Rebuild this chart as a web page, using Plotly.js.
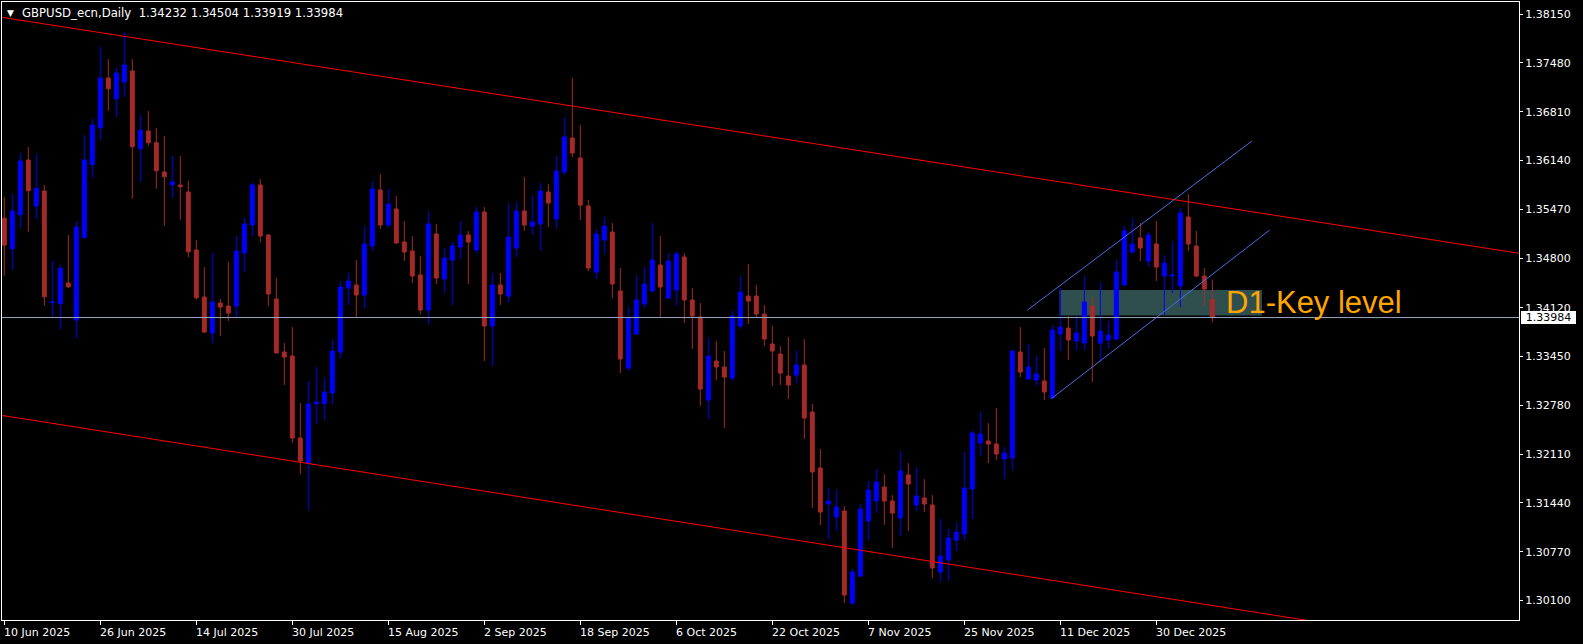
<!DOCTYPE html>
<html>
<head>
<meta charset="utf-8">
<script src="https://cdn.plot.ly/plotly-3.0.1.min.js"></script>
<style>
html,body{margin:0;padding:0;background:#000;overflow:hidden;}
#chart{width:1583px;height:644px;}
</style>
</head>
<body>
<div id="chart"></div>
<script>
// ---- Data (GBPUSD daily) ----
const symbolTitle = "GBPUSD_ecn,Daily";
const startDate = "2025-06-10";
const holidays = ["2025-12-25", "2026-01-01"];

const openP = [1.35346,1.34929,1.35395,1.36146,1.35515,1.35721,1.3419,1.34174,1.34458,1.3395,
1.3508,1.36082,1.36589,1.37272,1.36987,1.37217,1.37368,1.36301,1.36544,1.36383,
1.35981,1.35807,1.35803,1.35707,1.34911,1.34266,1.33772,1.34183,1.34142,1.34142,
1.3487,1.35254,1.35803,1.35117,1.34238,1.33511,1.33456,1.32331,1.31987,1.32801,
1.32801,1.32948,1.33511,1.34389,1.3443,1.34293,1.34966,1.35734,1.35254,1.35474,
1.35021,1.34897,1.34568,1.34087,1.35131,1.34513,1.34774,1.34952,1.35117,1.34911,
1.35432,1.33868,1.3443,1.34279,1.34938,1.35446,1.3524,1.35268,1.35707,1.35336,
1.35981,1.36448,1.36174,1.35515,1.34609,1.35048,1.35158,1.34348,1.33291,1.33758,
1.3417,1.34348,1.34705,1.34252,1.34362,1.34815,1.34225,1.33991,1.32852,1.33387,
1.33305,1.33154,1.33868,1.34279,1.34279,1.34032,1.33621,1.33483,1.33181,1.33195,
1.33332,1.32687,1.31919,1.31425,1.31246,1.31329,1.30066,1.30436,1.31191,1.31466,
1.31658,1.31466,1.31233,1.31823,1.31411,1.31507,1.31411,1.30491,1.30656,1.30931,
1.31013,1.31631,1.32262,1.32289,1.32248,1.32042,1.32056,1.33511,1.3314,1.33127,
1.33113,1.3288,1.33758,1.3384,1.33662,1.33634,1.34142,1.33634,1.33676,1.33689,
1.3443,1.34883,1.35076,1.3476,1.34993,1.34554,1.34554,1.34417,1.35364,1.34966,
1.34554,1.34232];

const highP = [1.35642,1.35679,1.36242,1.36324,1.36228,1.35803,1.3476,1.34705,1.35117,1.35309,
1.36489,1.36723,1.37711,1.37532,1.37409,1.37903,1.37532,1.36768,1.36819,1.36585,
1.36475,1.36201,1.36201,1.35862,1.35048,1.34677,1.3487,1.34238,1.34746,1.35103,
1.3535,1.35844,1.35885,1.3513,1.34527,1.33634,1.33854,1.32811,1.33113,1.33305,
1.33154,1.33676,1.34485,1.34595,1.34774,1.3524,1.35858,1.35954,1.35748,1.35652,
1.35309,1.35103,1.34828,1.35446,1.35268,1.34938,1.35021,1.35309,1.35172,1.35501,
1.35501,1.34595,1.34595,1.35556,1.3557,1.35913,1.35652,1.3583,1.35817,1.36201,
1.36736,1.37272,1.36626,1.35597,1.35199,1.35364,1.35281,1.34664,1.34128,1.34568,
1.34677,1.35281,1.35103,1.3487,1.34897,1.3487,1.34389,1.34183,1.33703,1.33662,
1.33525,1.34087,1.34554,1.34719,1.3443,1.34156,1.33868,1.33593,1.33717,1.33538,
1.33689,1.32797,1.3218,1.31644,1.31617,1.31397,1.30533,1.31425,1.3174,1.31905,
1.31836,1.31548,1.32152,1.31987,1.31932,1.31768,1.31548,1.31219,1.31082,1.31178,
1.32138,1.3244,1.32687,1.32536,1.32742,1.32207,1.33538,1.33854,1.33621,1.33456,
1.33566,1.33881,1.34389,1.34005,1.34019,1.34554,1.34266,1.34472,1.33936,1.34774,
1.3524,1.3535,1.35281,1.35158,1.35309,1.34842,1.35021,1.35487,1.35679,1.35172,
1.34664,1.34504];

const lowP = [1.34558,1.34636,1.35213,1.35162,1.3534,1.34146,1.33995,1.33817,1.34389,1.33699,
1.3508,1.35899,1.36421,1.36823,1.3674,1.37015,1.35615,1.35848,1.36342,1.35752,
1.35244,1.35629,1.35327,1.34811,1.34229,1.33772,1.33634,1.3373,1.33936,1.33991,
1.34609,1.35103,1.35021,1.34142,1.3349,1.33058,1.32262,1.31836,1.31342,1.32523,
1.32578,1.32797,1.33429,1.34156,1.33978,1.34115,1.34897,1.35199,1.35213,1.35,
1.3476,1.34458,1.34032,1.33895,1.34444,1.34321,1.34156,1.34787,1.34444,1.3487,
1.33387,1.33319,1.34156,1.34197,1.34815,1.35172,1.35117,1.34897,1.35226,1.35213,
1.3594,1.36187,1.35323,1.34623,1.34513,1.34856,1.34252,1.33223,1.3325,1.3375,
1.34115,1.34334,1.33991,1.34245,1.34142,1.33909,1.33552,1.3277,1.32591,1.33127,
1.32468,1.33113,1.33827,1.33895,1.33991,1.33593,1.33044,1.33058,1.32866,1.33085,
1.32317,1.3137,1.31136,1.30944,1.31054,1.30066,1.30038,1.30423,1.30931,1.31301,
1.31136,1.30821,1.30985,1.31054,1.31329,1.31315,1.30409,1.30354,1.30368,1.3078,
1.30931,1.31219,1.32083,1.31987,1.32029,1.31768,1.31891,1.33168,1.3314,1.33044,
1.32852,1.3287,1.33525,1.33401,1.33538,1.33538,1.33099,1.33374,1.33552,1.33662,
1.34425,1.3487,1.3476,1.34677,1.34485,1.34019,1.34321,1.34128,1.34897,1.3454,
1.34142,1.33919];

const closeP = [1.34979,1.35446,1.36132,1.35725,1.35758,1.3427,1.34197,1.3466,1.34407,1.35226,
1.36146,1.36626,1.37272,1.37125,1.3734,1.3745,1.36329,1.36554,1.36383,1.35999,
1.35917,1.35844,1.3578,1.34887,1.34256,1.33785,1.34197,1.34128,1.34046,1.34897,
1.35268,1.35803,1.35103,1.34307,1.33497,1.33442,1.32331,1.32015,1.32797,1.32825,
1.32962,1.33525,1.34403,1.34485,1.34293,1.34993,1.35748,1.35254,1.35542,1.35007,
1.34883,1.34554,1.34087,1.35268,1.34527,1.34801,1.34966,1.35117,1.35021,1.35432,
1.33868,1.3443,1.34307,1.35089,1.35446,1.35254,1.35295,1.35721,1.35556,1.35995,
1.36462,1.36242,1.35528,1.34664,1.3513,1.3524,1.34444,1.33415,1.33978,1.34225,
1.34444,1.34774,1.34403,1.3476,1.34856,1.34225,1.34005,1.33003,1.33456,1.33305,
1.33168,1.34005,1.34334,1.34211,1.34032,1.33689,1.33525,1.33223,1.33058,1.33332,
1.32605,1.31864,1.31315,1.31466,1.31383,1.30176,1.30491,1.31356,1.31617,1.31727,
1.31466,1.31301,1.31878,1.31699,1.31534,1.31425,1.30546,1.30711,1.30958,1.3104,
1.31644,1.32399,1.32385,1.32248,1.32111,1.32125,1.33525,1.33236,1.33305,1.33209,
1.32962,1.33813,1.33854,1.33676,1.33772,1.34197,1.3373,1.33799,1.33744,1.34609,
1.35172,1.34993,1.34938,1.35117,1.34677,1.34732,1.34568,1.35419,1.34993,1.34554,
1.34376,1.33984];

const priceTicks = [1.38150,1.37480,1.36810,1.36140,1.35470,1.34800,1.34120,1.33450,1.32780,1.32110,1.31440,1.30770,1.30100];
const dateTickLabels = ["10 Jun 2025","26 Jun 2025","14 Jul 2025","30 Jul 2025","15 Aug 2025","2 Sep 2025","18 Sep 2025","6 Oct 2025","22 Oct 2025","7 Nov 2025","25 Nov 2025","11 Dec 2025","30 Dec 2025"];

// drawn objects: [barIndex, price] end points
const upperRedLine = [[-0.3, 1.38105], [189.4, 1.34865]];
const lowerRedLine = [[-0.3, 1.32641], [189.4, 1.29370]];
const blueUpperLine = [[127.9, 1.34087], [155.96, 1.36407]];
const blueLowerLine = [[130.9, 1.32873], [158.17, 1.35185]];
const keyZone = [[131.9, 1.34012], [157.2, 1.34362]];
const keyLabel = {text: "D1-Key level", at: [152.46, 1.34197]};

// ---- Build trading days ----
const months = ["Jan","Feb","Mar","Apr","May","Jun","Jul","Aug","Sep","Oct","Nov","Dec"];
const days = [];
{
  let d = new Date(startDate + "T00:00:00Z");
  while (days.length < openP.length) {
    const iso = d.toISOString().slice(0,10);
    const dow = d.getUTCDay();
    if (dow !== 0 && dow !== 6 && !holidays.includes(iso)) days.push(new Date(d));
    d.setUTCDate(d.getUTCDate() + 1);
  }
}
const dayLabel = d => d.getUTCDate() + " " + months[d.getUTCMonth()] + " " + d.getUTCFullYear();
const labelsAll = days.map(dayLabel);
const xIdx = days.map((_, i) => i);
const tickIdx = dateTickLabels.map(l => labelsAll.indexOf(l));

const n = openP.length;
const last = n - 1;
const bid = closeP[last];

const W = 1583, H = 644;
const mL = 2, mR = 64, mT = 2, mB = 24;
const xRange = [-0.2875, 189.3375];
const yRange = [1.29833, 1.38315];

const trace = {
  type: 'candlestick',
  x: xIdx, open: openP, high: highP, low: lowP, close: closeP,
  increasing: {line: {color: '#0000ff', width: 1}, fillcolor: '#0000ff'},
  decreasing: {line: {color: '#a52a2a', width: 1}, fillcolor: '#a52a2a'},
  whiskerwidth: 0,
  hoverinfo: 'skip',
  showlegend: false
};

function seg(p, color) {
  return {type: 'line', xref: 'x', yref: 'y', x0: p[0][0], y0: p[0][1], x1: p[1][0], y1: p[1][1],
          line: {color: color, width: 1}, layer: 'above'};
}

const shapes = [
  {type: 'rect', xref: 'x', yref: 'y', x0: keyZone[0][0], x1: keyZone[1][0], y0: keyZone[0][1], y1: keyZone[1][1],
   fillcolor: '#2f4f4f', line: {width: 0}, layer: 'below'},
  seg(upperRedLine, '#ff0000'),
  seg(lowerRedLine, '#ff0000'),
  seg(blueUpperLine, '#4a6ee8'),
  seg(blueLowerLine, '#4a6ee8'),
  {type: 'line', xref: 'paper', yref: 'y', x0: 0, x1: 1, y0: bid, y1: bid,
   line: {color: '#98a8be', width: 1}, layer: 'above'}
];

const fontMain = {family: 'DejaVu Sans', size: 11, color: '#ffffff'};

const annotations = [];
dateTickLabels.forEach((lab, i) => {
  annotations.push({x: tickIdx[i], xref: 'x', y: 0, yref: 'paper', text: lab, showarrow: false,
    xanchor: 'left', yanchor: 'middle', yshift: -12, xshift: -2, font: fontMain});
});
annotations.push({x: 0, xref: 'paper', y: 1, yref: 'paper', text: '▼', showarrow: false,
  xanchor: 'left', yanchor: 'middle', xshift: 3, yshift: -11, font: {family: 'DejaVu Sans', size: 9, color: '#ffffff'}});
annotations.push({x: 0, xref: 'paper', y: 1, yref: 'paper', showarrow: false,
  text: symbolTitle + '  ' + [openP[last], highP[last], lowP[last], closeP[last]].map(v => v.toFixed(5)).join(' '),
  xanchor: 'left', yanchor: 'middle', xshift: 18, yshift: -11, font: {family: 'DejaVu Sans', size: 11.7, color: '#ffffff'}});
annotations.push({x: keyLabel.at[0], xref: 'x', y: keyLabel.at[1], yref: 'y', text: keyLabel.text, showarrow: false,
  xanchor: 'left', yanchor: 'middle', font: {family: 'Liberation Sans', size: 31, color: '#ffa500'}});
annotations.push({x: 1, xref: 'paper', y: bid, yref: 'y', text: bid.toFixed(5), showarrow: false,
  xanchor: 'left', yanchor: 'middle', xshift: 2, bgcolor: '#ffffff', borderpad: 0, borderwidth: 0, width: 55, align: 'center',
  font: {family: 'DejaVu Sans', size: 11, color: '#000000'}});

const layout = {
  width: W, height: H,
  margin: {l: mL, r: mR, t: mT, b: mB, pad: 0},
  paper_bgcolor: '#000000', plot_bgcolor: '#000000',
  showlegend: false, hovermode: false, dragmode: false,
  xaxis: {type: 'linear', range: xRange, showgrid: false, zeroline: false, rangeslider: {visible: false},
    showline: true, mirror: true, linecolor: '#ffffff', linewidth: 1,
    tickmode: 'array', tickvals: tickIdx, ticktext: dateTickLabels.map(() => ''), ticks: 'outside', ticklen: 4,
    tickcolor: '#ffffff', tickwidth: 1, showticklabels: false, fixedrange: true},
  yaxis: {side: 'right', range: yRange, showgrid: false, zeroline: false,
    showline: true, mirror: true, linecolor: '#ffffff', linewidth: 1,
    tickmode: 'array', tickvals: priceTicks, ticktext: priceTicks.map(v => v.toFixed(5)),
    ticks: 'outside', ticklen: 3, tickcolor: '#ffffff', tickwidth: 1, tickfont: fontMain, fixedrange: true},
  shapes: shapes,
  annotations: annotations
};

Plotly.newPlot('chart', [trace], layout, {displayModeBar: false, staticPlot: true});
</script>
</body>
</html>
